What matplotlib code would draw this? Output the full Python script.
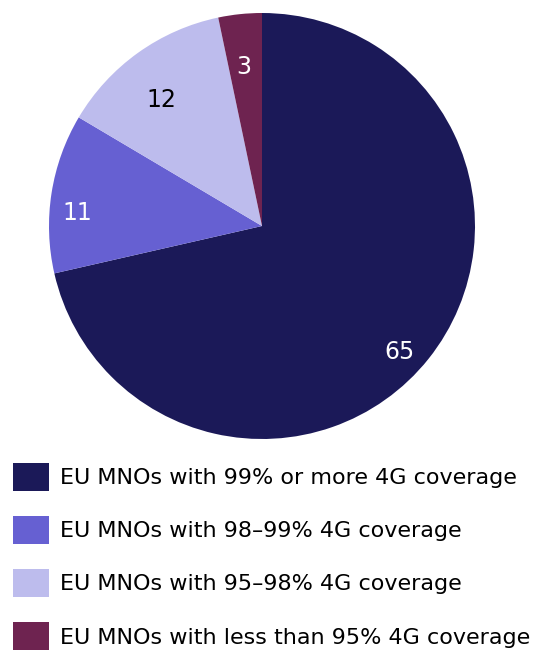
import numpy as np
import matplotlib.pyplot as plt

# share of EU mobile network operators by 4G population coverage
categories = [
    'EU MNOs with 99% or more 4G coverage',
    'EU MNOs with 98\u201399% 4G coverage',
    'EU MNOs with 95\u201398% 4G coverage',
    'EU MNOs with less than 95% 4G coverage',
]
values = [65, 11, 12, 3]
colors = ['#1b1958', '#6660d2', '#bdbced', '#6e2350']
label_colors = ['white', 'white', 'black', 'white']

# where each value label sits: fraction of radius, degrees off the wedge middle
label_radius = [0.868, 0.871, 0.767, 0.761]
label_shift = [-3.5, 4.2, 2.6, 0.6]

plt.rcParams['font.family'] = ['DejaVu Sans']

fig = plt.figure(figsize=(5.37, 6.51), dpi=100)
ax = fig.add_axes([49 / 537, 212 / 651, 426 / 537, 426 / 651])

wedges, _ = ax.pie(values, colors=colors, startangle=90, counterclock=False,
                   wedgeprops=dict(linewidth=0))
ax.set_xlim(-1, 1)
ax.set_ylim(-1, 1)
ax.set_aspect('equal')

# value labels inside each wedge
for w, v, c, r, s in zip(wedges, values, label_colors, label_radius, label_shift):
    ang = np.deg2rad((w.theta1 + w.theta2) / 2 + s)
    ax.text(r * np.cos(ang), r * np.sin(ang), str(v), color=c,
            fontsize=17, ha='center', va='center_baseline')

leg = fig.legend(wedges, categories, loc='upper left',
                 bbox_to_anchor=(13 / 537, 1 - 463 / 651), frameon=False,
                 fontsize=16, handlelength=1.62, handleheight=1.56,
                 handletextpad=0.5, labelspacing=1.13, borderpad=0,
                 borderaxespad=0)

fig.savefig('out.png', dpi=100)
